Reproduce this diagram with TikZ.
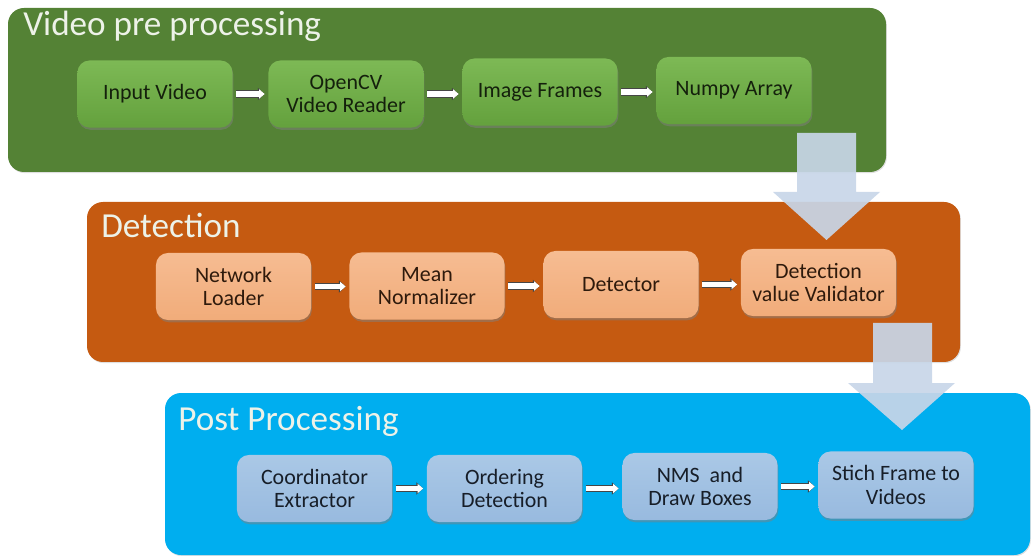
\documentclass[tikz,border=0pt]{standalone}
\usepackage{fontspec}
\setmainfont{Carlito}
\usetikzlibrary{shadows,arrows.meta}

\definecolor{gpanel}{HTML}{548235}
\definecolor{gtop}{HTML}{7DB955}
\definecolor{gbot}{HTML}{64A13D}
\definecolor{gtext}{HTML}{14200C}
\definecolor{opanel}{HTML}{C55A11}
\definecolor{otop}{HTML}{F6BC92}
\definecolor{obot}{HTML}{F1AC7A}
\definecolor{otext}{HTML}{2E1A0C}
\definecolor{bpanel}{HTML}{00AEEF}
\definecolor{btop}{HTML}{AAC8E6}
\definecolor{bbot}{HTML}{98BADF}
\definecolor{btext}{HTML}{171E28}
\definecolor{titlecol}{HTML}{EDF2E8}
\definecolor{flowcol}{HTML}{C8D6E8}

\begin{document}
\begin{tikzpicture}[x=0.025cm,y=-0.025cm,
  panel/.style={rounded corners=0.4cm,
    drop shadow={shadow xshift=0.6pt,shadow yshift=-0.8pt,opacity=0.25}},
  title/.style={anchor=base west,inner sep=0pt,text=titlecol,
    font=\fontsize{25}{28}\selectfont},
  box/.style={rounded corners=0.3cm,minimum width=3.875cm,minimum height=1.675cm,
    align=center,inner sep=2pt,font=\fontsize{15.6}{16.8}\selectfont,
    drop shadow={shadow xshift=0.6pt,shadow yshift=-1.6pt,opacity=0.5}},
  gbox/.style={box,top color=gtop,bottom color=gbot,text=gtext},
  obox/.style={box,top color=otop,bottom color=obot,text=otext},
  bbox/.style={box,top color=btop,bottom color=bbot,text=btext},
  link/.style={shorten <=2.5pt,shorten >=2.5pt,line width=3.6pt,white,
    -{Triangle[length=4pt,width=6.5pt]},
    preaction={draw=gray!55!black,line width=5.4pt,
      -{Triangle[length=4.8pt,width=8.5pt]}}},
  flow/.style={fill=flowcol,opacity=0.92}
]
\useasboundingbox (0,0) rectangle (1031,556);

% stage panels
\fill[panel,gpanel] (8,8) rectangle (886,172);
\fill[panel,opanel] (87,202) rectangle (960,362);
\fill[panel,bpanel] (165,393) rectangle (1030,555);

\node[title] (t1) at (23,36) {Video pre processing};
\node[title] (t2) at (101,238) {Detection};
\node[title] (t3) at (178,430) {Post Processing};

% video pre processing
\node[gbox] (iv) at (155,94) {Input Video};
\node[gbox] (cv) at (346,94) {OpenCV\\Video Reader};
\node[gbox] (fr) at (540,92) {Image Frames};
\node[gbox] (np) at (734,90.5) {Numpy Array};

% detection
\node[obox] (nl) at (233.5,286.5) {Network\\Loader};
\node[obox] (mn) at (427,286) {Mean\\Normalizer};
\node[obox] (de) at (621,284.5) {Detector};
\node[obox] (vv) at (818.5,282.5) {Detection\\value Validator};

% post processing
\node[bbox] (ce) at (314.5,488.5) {Coordinator\\Extractor};
\node[bbox] (od) at (504.5,488.5) {Ordering\\Detection};
\node[bbox] (nm) at (700,486.5) {NMS\ \ and\\Draw Boxes};
\node[bbox] (sf) at (896,485) {Stich Frame to\\Videos};

% links inside each stage
\draw[link] (iv.east) -- (iv.east -| cv.west);
\draw[link] (cv.east) -- (cv.east -| fr.west);
\draw[link] (fr.east) -- (fr.east -| np.west);
\draw[link] (nl.east) -- (nl.east -| mn.west);
\draw[link] (mn.east) -- (mn.east -| de.west);
\draw[link] (de.east) -- (de.east -| vv.west);
\draw[link] (ce.east) -- (ce.east -| od.west);
\draw[link] (od.east) -- (od.east -| nm.west);
\draw[link] (nm.east) -- (nm.east -| sf.west);

% block arrows between stages
\fill[flow] (797,133) -- (856,133) -- (856,192) -- (880,192) -- (826.5,240)
  -- (773,192) -- (797,192) -- cycle;
\fill[flow] (873,323) -- (932,323) -- (932,383) -- (955,383) -- (902,430)
  -- (848,383) -- (873,383) -- cycle;
\end{tikzpicture}
\end{document}
